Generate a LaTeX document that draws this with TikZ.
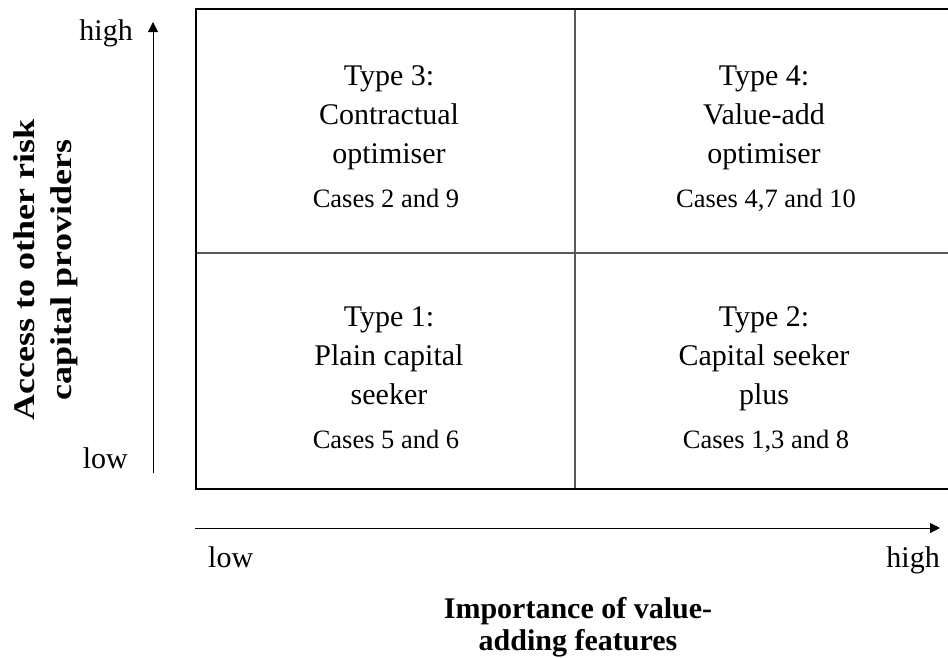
\documentclass[tikz,border=0pt]{standalone}
\usepackage{fontspec}
\setmainfont{Liberation Serif}
\usetikzlibrary{positioning,arrows.meta}
\tikzset{
quad/.style={align=center,anchor=north,font=\fontsize{30}{39}\selectfont,inner sep=0pt},
cas/.style={anchor=base,font=\fontsize{26.5}{30}\selectfont,inner sep=0pt},
lab/.style={font=\fontsize{30}{36}\selectfont,inner sep=0pt},
axlab/.style={align=center,font=\bfseries\fontsize{30}{32}\selectfont,inner sep=0pt},
ax/.style={-{Triangle[length=10pt,width=10pt]},line width=1pt},
frame/.style={line width=2pt},
split/.style={line width=1.5pt,black!65},
}

\begin{document}
\begin{tikzpicture}[x=1pt,y=-1pt]
	\useasboundingbox (0,0) rectangle (948,657);
	\coordinate (nw) at (196,9);
	\coordinate (se) at (960,489);
	\coordinate (midtop) at (575,9);
	\coordinate (midbot) at (575,489);
	\coordinate (midleft) at (196,253);
	\coordinate (midright) at (960,253);
	\begin{scope}
		\clip (0,0) rectangle (948,657);
		\draw[split] (midtop) -- (midbot);
		\draw[split] (midleft) -- (midright);
		\draw[frame] (nw) rectangle (se);
	\end{scope}

	\coordinate (ylow) at (153,473);
	\coordinate (yhigh) at (153,22);
	\coordinate (xlow) at (195,528);
	\coordinate (xhigh) at (940,528);
	\draw[ax] (ylow) -- (yhigh);
	\draw[ax] (xlow) -- (xhigh);

	\node[lab,anchor=base east] (hy) at (133,40) {high};
	\node[lab,anchor=base east] (ly) at (128,468) {low};
	\node[lab,anchor=base west] (lx) at (208,567) {low};
	\node[lab,anchor=base east] (hx) at (940,567) {high};

	\node[axlab,font=\bfseries\fontsize{30}{37}\selectfont,rotate=90,xscale=1.2] (ytitle) at (46,270) {Access to other risk\\capital providers};
	\node[axlab] (xtitle) at (578,627) {Importance of value-\\adding features};

	\node[quad] (t3) at (389,65.5) {Type 3:\\Contractual\\optimiser};
	\node[cas] (c3) at (386,207) {Cases 2 and 9};
	\node[quad] (t4) at (764,65.5) {Type 4:\\Value-add\\optimiser};
	\node[cas] (c4) at (766,207) {Cases 4,7 and 10};
	\node[quad] (t1) at (389,306.5) {Type 1:\\Plain capital\\seeker};
	\node[cas] (c1) at (386,448) {Cases 5 and 6};
	\node[quad] (t2) at (764,306.5) {Type 2:\\Capital seeker\\plus};
	\node[cas] (c2) at (766,448) {Cases 1,3 and 8};
\end{tikzpicture}
\end{document}
